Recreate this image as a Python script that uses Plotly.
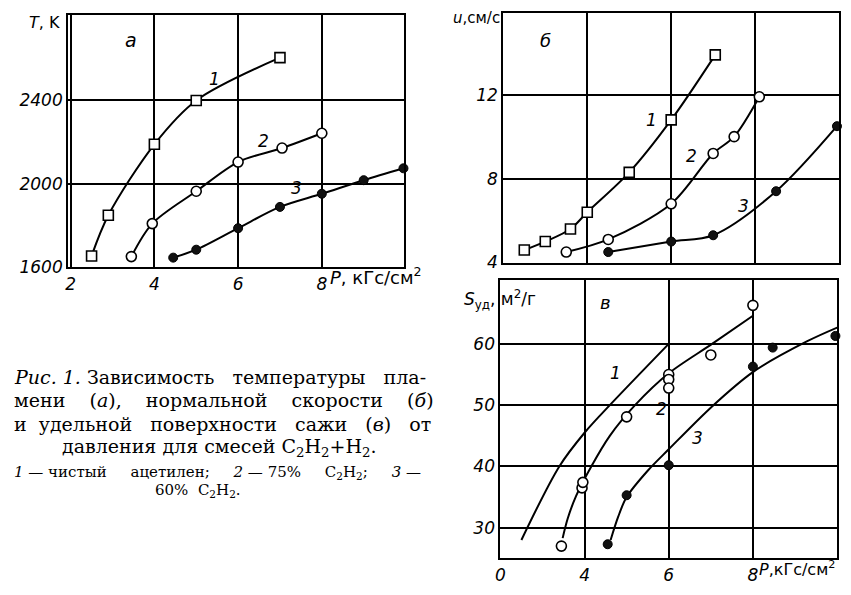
import plotly.graph_objects as go

# The page body has an 8 px margin; the figure is sized to fit inside it and
# reference pixel positions (851x595 picture) are mapped onto it.
OFF = 8
W, H = 851 - 2 * OFF, 595 - 2 * OFF
REF_W, REF_H = 851 - OFF, 595 - 2 * OFF

# ---------------- data ----------------
# panel a: flame temperature T, K vs pressure P
a_p1 = [2.5, 2.9, 4.0, 5.0, 7.0]
a_T1 = [1655, 1850, 2190, 2400, 2605]
a_p2 = [3.45, 3.95, 5.0, 6.0, 7.05, 8.0]
a_T2 = [1652, 1810, 1965, 2105, 2172, 2243]
a_p3 = [4.45, 5.0, 6.0, 7.0, 8.0, 9.0, 9.95]
a_T3 = [1647, 1685, 1788, 1890, 1953, 2018, 2075]

# panel б: normal burning velocity u, cm/s
b_p1 = [2.5, 3.0, 3.6, 4.0, 5.0, 6.0, 7.05]
b_u1 = [4.6, 5.0, 5.6, 6.4, 8.3, 10.8, 13.9]
b_p2 = [3.5, 4.5, 6.0, 7.0, 7.5, 8.1]
b_u2 = [4.5, 5.1, 6.8, 9.2, 10.0, 11.9]
b_p3 = [4.5, 6.0, 7.0, 8.5, 9.95]
b_u3 = [4.5, 5.0, 5.3, 7.4, 10.5]

# panel в: specific surface of soot S, m2/g (points + drawn fit curves)
c_p2 = [3.45, 3.94, 3.96, 5.0, 6.0, 6.0, 6.0, 7.0, 8.0]
c_S2 = [27.0, 36.5, 37.4, 48.1, 55.0, 54.2, 52.8, 58.2, 66.3]
c_p3 = [4.55, 5.0, 6.0, 8.0, 8.47, 9.96]
c_S3 = [27.3, 35.3, 40.2, 56.3, 59.4, 61.3]
fit1_p = [2.5, 3.4, 4.0, 4.6, 6.0]
fit1_S = [28.0, 40.0, 45.5, 50.0, 60.0]
fit2_p = [3.48, 3.6, 3.8, 4.16, 4.6, 5.2, 6.0, 7.03, 8.0]
fit2_S = [28.3, 31.5, 35.2, 40.0, 45.0, 50.0, 55.2, 60.0, 64.6]
fit3_p = [4.62, 4.8, 5.0, 5.5, 6.0, 7.03, 8.0, 9.28, 10.05]
fit3_S = [28.0, 31.8, 35.0, 39.3, 42.8, 49.8, 55.4, 60.4, 62.8]

# axes ticks
a_xticks = [2, 4, 6, 8]
a_yticks = [1600, 2000, 2400]
b_yticks = [4, 8, 12]
c_xticks = [2, 4, 6, 8]
c_xtext = ["0", "4", "6", "8"]
c_yticks = [30, 40, 50, 60]

SANS = "DejaVu Sans"
SERIF = "DejaVu Serif"

def px(x):
    return (x - OFF) / REF_W

def py(y):
    return 1 - (y - OFF) / REF_H

def it(vals):
    return ["<i>%s</i>" % v for v in vals]

fig = go.Figure()

line_style = dict(color="black", width=2, shape="spline", smoothing=0.9)
open_sq = dict(symbol="square", size=10, color="white", line=dict(color="black", width=1.6))
open_ci = dict(symbol="circle", size=10, color="white", line=dict(color="black", width=1.6))
full_ci = dict(symbol="circle", size=9, color="#111", line=dict(color="black", width=1))

def series(x, y, marker, xa, ya, mode="lines+markers"):
    fig.add_trace(go.Scatter(x=x, y=y, mode=mode, line=line_style, marker=marker,
                             xaxis=xa, yaxis=ya, showlegend=False, cliponaxis=False))

series(a_p1, a_T1, open_sq, "x", "y")
series(a_p2, a_T2, open_ci, "x", "y")
series(a_p3, a_T3, full_ci, "x", "y")

series(b_p1, b_u1, open_sq, "x2", "y2")
series(b_p2, b_u2, open_ci, "x2", "y2")
series(b_p3, b_u3, full_ci, "x2", "y2")

series(fit1_p, fit1_S, None, "x3", "y3", mode="lines")
series(fit2_p, fit2_S, None, "x3", "y3", mode="lines")
series(fit3_p, fit3_S, None, "x3", "y3", mode="lines")
fig.add_trace(go.Scatter(x=c_p2, y=c_S2, mode="markers", marker=open_ci,
                         xaxis="x3", yaxis="y3", showlegend=False, cliponaxis=False))
fig.add_trace(go.Scatter(x=c_p3, y=c_S3, mode="markers", marker=full_ci,
                         xaxis="x3", yaxis="y3", showlegend=False, cliponaxis=False))

tickfont = dict(family=SANS, size=17, color="black")
ax_common = dict(showline=True, mirror=True, linecolor="black", linewidth=2,
                 showgrid=True, gridcolor="black", gridwidth=1.6, zeroline=False,
                 ticks="", tickfont=tickfont, fixedrange=True)

fig.update_layout(
    width=W, height=H, margin=dict(l=0, r=0, t=0, b=0),
    paper_bgcolor="white", plot_bgcolor="white",
    xaxis=dict(ax_common, domain=[px(64), px(405)], range=[1.94, 9.96],
               tickvals=a_xticks, ticktext=it(a_xticks), anchor="y"),
    yaxis=dict(ax_common, domain=[py(272), py(15)], range=[1600, 2810],
               tickvals=a_yticks, ticktext=it(a_yticks), anchor="x"),
    xaxis2=dict(ax_common, domain=[px(506), px(847)], range=[2.0, 10.0],
                tickvals=c_xticks, showticklabels=False, anchor="y2"),
    yaxis2=dict(ax_common, domain=[py(267), py(13)], range=[4.0, 15.9],
                tickvals=b_yticks, ticktext=it(b_yticks), anchor="x2"),
    xaxis3=dict(ax_common, domain=[px(503), px(845)], range=[2.0, 10.0],
                tickvals=c_xticks, ticktext=it(c_xtext), anchor="y3"),
    yaxis3=dict(ax_common, domain=[py(568), py(285)], range=[25, 70.4],
                tickvals=c_yticks, ticktext=it(c_yticks), anchor="x3"),
)

def ann(text, x, y, xref="paper", yref="paper", size=17, family=SANS, xanchor="center",
        yanchor="middle"):
    fig.add_annotation(text=text, x=x, y=y, xref=xref, yref=yref, showarrow=False,
                       xanchor=xanchor, yanchor=yanchor, borderpad=0,
                       font=dict(family=family, size=size, color="black"))

# curve labels
ann("<i>1</i>", 5.44, 2503, "x", "y")
ann("<i>2</i>", 6.6, 2207, "x", "y")
ann("<i>3</i>", 7.4, 1981, "x", "y")
ann("<i>а</i>", 3.45, 2690, "x", "y", size=19)

ann("<i>1</i>", 5.54, 10.8, "x2", "y2")
ann("<i>2</i>", 6.48, 9.1, "x2", "y2")
ann("<i>3</i>", 7.73, 6.7, "x2", "y2")
ann("<i>б</i>", 3.0, 14.6, "x2", "y2", size=18)

ann("<i>1</i>", 4.74, 55.3, "x3", "y3")
ann("<i>2</i>", 5.83, 49.4, "x3", "y3")
ann("<i>3</i>", 6.68, 44.6, "x3", "y3")
ann("<i>в</i>", 4.5, 66.8, "x3", "y3", size=18)

# axis titles
ann("<i>T</i>, K", px(40), py(23), size=16)
ann("<i>u</i>,см/с", px(504), py(18), size=15, xanchor="right")
ann("<i>S</i><sub>уд</sub>, м<sup>2</sup>/г", px(465), py(305), size=17, xanchor="left")
ann("<i>P</i>, кГс/см<sup>2</sup>", px(329), py(281), size=18, xanchor="left")
ann("<i>P</i>,кГс/см<sup>2</sup>", px(765), py(578), size=16, xanchor="left")

# caption
cap = 19
ann("<i>Рис. 1.</i> Зависимость   температуры   пла-", px(8), py(383), size=cap, family=SERIF, xanchor="left")
ann("мени    (<i>а</i>),    нормальной    скорости    (<i>б</i>)", px(8), py(407), size=cap, family=SERIF, xanchor="left")
ann("и  удельной   поверхности   сажи   (<i>в</i>)   от", px(8), py(431), size=cap, family=SERIF, xanchor="left")
ann("давления для смесей C<sub>2</sub>H<sub>2</sub>+H<sub>2</sub>.", px(218), py(455), size=cap, family=SERIF)
ann("<i>1</i> — чистый     ацетилен;     <i>2</i> — 75%     C<sub>2</sub>H<sub>2</sub>;     <i>3</i> —", px(8), py(481), size=15, family=SERIF, xanchor="left")
ann("60%  C<sub>2</sub>H<sub>2</sub>.", px(196), py(499), size=15, family=SERIF)

fig.write_html("out.html")
